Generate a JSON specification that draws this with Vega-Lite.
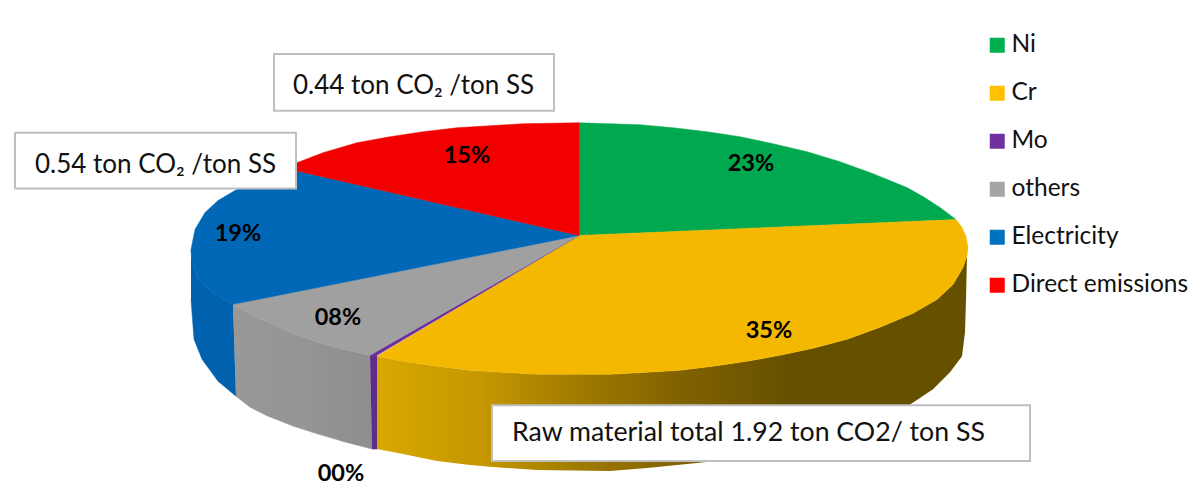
{"$schema":"https://vega.github.io/schema/vega-lite/v6.json","width":1198,"height":486,"autosize":{"type":"fit","contains":"padding"},"padding":0,"background":"white","config":{"view":{"stroke":null},"font":"Lato"},
"datasets":{
"outline":[
{"slice":"Ni","seq":0,"x":579,"y":236},{"slice":"Ni","seq":1,"x":579,"y":123},{"slice":"Ni","seq":2,"x":610,"y":124},{"slice":"Ni","seq":3,"x":640,"y":125},{"slice":"Ni","seq":4,"x":673,"y":128},{"slice":"Ni","seq":5,"x":707,"y":132},{"slice":"Ni","seq":6,"x":740,"y":137},{"slice":"Ni","seq":7,"x":773,"y":144},{"slice":"Ni","seq":8,"x":807,"y":152},{"slice":"Ni","seq":9,"x":840,"y":162},{"slice":"Ni","seq":10,"x":873,"y":174},{"slice":"Ni","seq":11,"x":907,"y":188},{"slice":"Ni","seq":12,"x":923,"y":197},{"slice":"Ni","seq":13,"x":940,"y":208},{"slice":"Ni","seq":14,"x":956,"y":220},{"slice":"Ni","seq":15,"x":579,"y":236},
{"slice":"Cr","seq":0,"x":579,"y":236},{"slice":"Cr","seq":1,"x":956,"y":220},{"slice":"Cr","seq":2,"x":962,"y":228},{"slice":"Cr","seq":3,"x":966,"y":237},{"slice":"Cr","seq":4,"x":968,"y":248},{"slice":"Cr","seq":5,"x":967,"y":256},{"slice":"Cr","seq":6,"x":963,"y":268},{"slice":"Cr","seq":7,"x":953,"y":285},{"slice":"Cr","seq":8,"x":937,"y":300},{"slice":"Cr","seq":9,"x":913,"y":314},{"slice":"Cr","seq":10,"x":880,"y":328},{"slice":"Cr","seq":11,"x":847,"y":340},{"slice":"Cr","seq":12,"x":813,"y":349},{"slice":"Cr","seq":13,"x":780,"y":356},{"slice":"Cr","seq":14,"x":747,"y":362},{"slice":"Cr","seq":15,"x":713,"y":367},{"slice":"Cr","seq":16,"x":680,"y":371},{"slice":"Cr","seq":17,"x":647,"y":373},{"slice":"Cr","seq":18,"x":610,"y":375},{"slice":"Cr","seq":19,"x":570,"y":375},{"slice":"Cr","seq":20,"x":537,"y":375},{"slice":"Cr","seq":21,"x":503,"y":373},{"slice":"Cr","seq":22,"x":470,"y":371},{"slice":"Cr","seq":23,"x":437,"y":367},{"slice":"Cr","seq":24,"x":403,"y":362},{"slice":"Cr","seq":25,"x":377,"y":357},{"slice":"Cr","seq":26,"x":579,"y":236},
{"slice":"Mo","seq":0,"x":579,"y":236},{"slice":"Mo","seq":1,"x":377,"y":356},{"slice":"Mo","seq":2,"x":370,"y":356},{"slice":"Mo","seq":3,"x":579,"y":236},
{"slice":"others","seq":0,"x":579,"y":236},{"slice":"others","seq":1,"x":370,"y":356},{"slice":"others","seq":2,"x":343,"y":350},{"slice":"others","seq":3,"x":318,"y":343},{"slice":"others","seq":4,"x":293,"y":334},{"slice":"others","seq":5,"x":268,"y":323},{"slice":"others","seq":6,"x":250,"y":315},{"slice":"others","seq":7,"x":233,"y":305},{"slice":"others","seq":8,"x":579,"y":236},
{"slice":"Electricity","seq":0,"x":579,"y":236},{"slice":"Electricity","seq":1,"x":233,"y":305},{"slice":"Electricity","seq":2,"x":215,"y":295},{"slice":"Electricity","seq":3,"x":198,"y":280},{"slice":"Electricity","seq":4,"x":192,"y":262},{"slice":"Electricity","seq":5,"x":191,"y":250},{"slice":"Electricity","seq":6,"x":195,"y":230},{"slice":"Electricity","seq":7,"x":205,"y":213},{"slice":"Electricity","seq":8,"x":218,"y":201},{"slice":"Electricity","seq":9,"x":240,"y":188},{"slice":"Electricity","seq":10,"x":262,"y":177},{"slice":"Electricity","seq":11,"x":283,"y":168},{"slice":"Electricity","seq":12,"x":579,"y":236},
{"slice":"Direct emissions","seq":0,"x":579,"y":236},{"slice":"Direct emissions","seq":1,"x":283,"y":168},{"slice":"Direct emissions","seq":2,"x":297,"y":163},{"slice":"Direct emissions","seq":3,"x":323,"y":153},{"slice":"Direct emissions","seq":4,"x":357,"y":143},{"slice":"Direct emissions","seq":5,"x":390,"y":137},{"slice":"Direct emissions","seq":6,"x":423,"y":132},{"slice":"Direct emissions","seq":7,"x":457,"y":128},{"slice":"Direct emissions","seq":8,"x":490,"y":126},{"slice":"Direct emissions","seq":9,"x":523,"y":124},{"slice":"Direct emissions","seq":10,"x":579,"y":123},{"slice":"Direct emissions","seq":11,"x":579,"y":236}
],
"wall":[
{"slice":"Electricity","seq":0,"x":191,"y":250},{"slice":"Electricity","seq":1,"x":192,"y":262},{"slice":"Electricity","seq":2,"x":198,"y":280},{"slice":"Electricity","seq":3,"x":215,"y":295},{"slice":"Electricity","seq":4,"x":233,"y":305},{"slice":"Electricity","seq":5,"x":236,"y":397},{"slice":"Electricity","seq":6,"x":218,"y":382},{"slice":"Electricity","seq":7,"x":202,"y":360},{"slice":"Electricity","seq":8,"x":194,"y":340},{"slice":"Electricity","seq":9,"x":191,"y":300},
{"slice":"others","seq":0,"x":233,"y":305},{"slice":"others","seq":1,"x":250,"y":315},{"slice":"others","seq":2,"x":268,"y":323},{"slice":"others","seq":3,"x":293,"y":334},{"slice":"others","seq":4,"x":318,"y":343},{"slice":"others","seq":5,"x":343,"y":350},{"slice":"others","seq":6,"x":370,"y":356},{"slice":"others","seq":7,"x":372,"y":450},{"slice":"others","seq":8,"x":345,"y":443},{"slice":"others","seq":9,"x":318,"y":435},{"slice":"others","seq":10,"x":293,"y":427},{"slice":"others","seq":11,"x":268,"y":417},{"slice":"others","seq":12,"x":250,"y":408},{"slice":"others","seq":13,"x":236,"y":397},
{"slice":"Mo","seq":0,"x":370,"y":356},{"slice":"Mo","seq":1,"x":377,"y":356},{"slice":"Mo","seq":2,"x":378,"y":450},{"slice":"Mo","seq":3,"x":372,"y":450},
{"slice":"Cr","seq":0,"x":377,"y":357},{"slice":"Cr","seq":1,"x":403,"y":362},{"slice":"Cr","seq":2,"x":437,"y":367},{"slice":"Cr","seq":3,"x":470,"y":371},{"slice":"Cr","seq":4,"x":503,"y":373},{"slice":"Cr","seq":5,"x":537,"y":375},{"slice":"Cr","seq":6,"x":570,"y":375},{"slice":"Cr","seq":7,"x":610,"y":375},{"slice":"Cr","seq":8,"x":647,"y":373},{"slice":"Cr","seq":9,"x":680,"y":371},{"slice":"Cr","seq":10,"x":713,"y":367},{"slice":"Cr","seq":11,"x":747,"y":362},{"slice":"Cr","seq":12,"x":780,"y":356},{"slice":"Cr","seq":13,"x":813,"y":349},{"slice":"Cr","seq":14,"x":847,"y":340},{"slice":"Cr","seq":15,"x":880,"y":328},{"slice":"Cr","seq":16,"x":913,"y":314},{"slice":"Cr","seq":17,"x":937,"y":300},{"slice":"Cr","seq":18,"x":953,"y":285},{"slice":"Cr","seq":19,"x":963,"y":268},{"slice":"Cr","seq":20,"x":967,"y":256},{"slice":"Cr","seq":21,"x":966,"y":300},{"slice":"Cr","seq":22,"x":965,"y":333},{"slice":"Cr","seq":23,"x":962,"y":357},{"slice":"Cr","seq":24,"x":950,"y":373},{"slice":"Cr","seq":25,"x":933,"y":390},{"slice":"Cr","seq":26,"x":912,"y":404},{"slice":"Cr","seq":27,"x":880,"y":424},{"slice":"Cr","seq":28,"x":840,"y":441},{"slice":"Cr","seq":29,"x":780,"y":455},{"slice":"Cr","seq":30,"x":697,"y":464},{"slice":"Cr","seq":31,"x":647,"y":469},{"slice":"Cr","seq":32,"x":610,"y":472},{"slice":"Cr","seq":33,"x":537,"y":471},{"slice":"Cr","seq":34,"x":493,"y":468},{"slice":"Cr","seq":35,"x":470,"y":466},{"slice":"Cr","seq":36,"x":437,"y":462},{"slice":"Cr","seq":37,"x":403,"y":455},{"slice":"Cr","seq":38,"x":377,"y":450}
],
"shares":[{"label":"23%","x":751,"y":164},{"label":"35%","x":769,"y":332},{"label":"00%","x":341,"y":475},{"label":"08%","x":338,"y":319},{"label":"19%","x":238,"y":234},{"label":"15%","x":467,"y":156}],
"boxes":[{"text":"0.44 ton CO₂ /ton SS","x":274,"x2":554,"y":54,"y2":111,"tx":293,"ty":86},{"text":"0.54 ton CO₂ /ton SS","x":15,"x2":296,"y":133,"y2":189,"tx":35,"ty":165},{"text":"Raw material total 1.92 ton CO2/ ton SS","x":492,"x2":1030,"y":406,"y2":462,"tx":512,"ty":434}],
"series":[{"slice":"Ni"},{"slice":"Cr"},{"slice":"Mo"},{"slice":"others"},{"slice":"Electricity"},{"slice":"Direct emissions"}]
},
"encoding":{},
"layer":[
{"data":{"name":"wall"},"transform":[{"filter":"datum.slice==='Electricity'"}],"mark":{"type":"line","fill":"#0062ae","stroke":"#0062ae","strokeWidth":0.5},"encoding":{"x":{"field":"x","type":"quantitative","scale":{"domain":[0,1198],"nice":false,"zero":false},"axis":null},"y":{"field":"y","type":"quantitative","scale":{"domain":[486,0],"nice":false,"zero":false},"axis":null},"order":{"field":"seq"}}},
{"data":{"name":"wall"},"transform":[{"filter":"datum.slice==='others'"}],"mark":{"type":"line","stroke":"#949494","strokeWidth":0.5,"fill":{"gradient":"linear","x1":0,"y1":0,"x2":1,"y2":0,"stops":[{"offset":0,"color":"#989898"},{"offset":0.5,"color":"#959595"},{"offset":1,"color":"#8e8e8e"}]}},"encoding":{"x":{"field":"x","type":"quantitative","axis":null},"y":{"field":"y","type":"quantitative","axis":null},"order":{"field":"seq"}}},
{"data":{"name":"wall"},"transform":[{"filter":"datum.slice==='Mo'"}],"mark":{"type":"line","fill":"#5f2c8c","stroke":"#5f2c8c","strokeWidth":0.5},"encoding":{"x":{"field":"x","type":"quantitative","axis":null},"y":{"field":"y","type":"quantitative","axis":null},"order":{"field":"seq"}}},
{"data":{"name":"wall"},"transform":[{"filter":"datum.slice==='Cr'"}],"mark":{"type":"line","strokeWidth":0,"fill":{"gradient":"linear","x1":0,"y1":0,"x2":1,"y2":0,"stops":[{"offset":0,"color":"#d8a700"},{"offset":0.17,"color":"#c69800"},{"offset":0.34,"color":"#a07b00"},{"offset":0.51,"color":"#816200"},{"offset":0.7,"color":"#665000"},{"offset":1,"color":"#655000"}]}},"encoding":{"x":{"field":"x","type":"quantitative","axis":null},"y":{"field":"y","type":"quantitative","axis":null},"order":{"field":"seq"}}},
{"data":{"name":"outline"},"mark":{"type":"line","strokeWidth":0.5},"encoding":{"x":{"field":"x","type":"quantitative","axis":null},"y":{"field":"y","type":"quantitative","axis":null},"order":{"field":"seq"},"fill":{"field":"slice","type":"nominal","legend":null,"scale":{"domain":["Ni","Cr","Mo","others","Electricity","Direct emissions"],"range":["#00a84f","#f4b800","#6a2f9a","#a0a0a0","#0068b7","#f20000"]}},"stroke":{"field":"slice","type":"nominal","legend":null,"scale":{"domain":["Ni","Cr","Mo","others","Electricity","Direct emissions"],"range":["#00a84f","#f4b800","#6a2f9a","#a0a0a0","#0068b7","#f20000"]}}}},
{"data":{"name":"series"},"mark":{"type":"square","size":0,"filled":true},"encoding":{"fill":{"field":"slice","type":"nominal","scale":{"domain":["Ni","Cr","Mo","others","Electricity","Direct emissions"],"range":["#00b050","#ffc000","#7030a0","#a5a5a5","#0070c0","#ff0000"]},"legend":{"title":null,"orient":"none","legendX":985,"legendY":33,"symbolType":"square","symbolSize":225,"symbolOpacity":1,"labelFontSize":24.5,"labelFont":"Lato","labelColor":"#111111","rowPadding":23,"labelOffset":2,"labelLimit":240,"symbolStrokeWidth":0}}}},
{"data":{"name":"boxes"},"mark":{"type":"rect","fill":"white","stroke":"#bfbfbf","strokeWidth":2},"encoding":{"x":{"field":"x","type":"quantitative","axis":null},"x2":{"field":"x2"},"y":{"field":"y","type":"quantitative","axis":null},"y2":{"field":"y2"}}},
{"data":{"name":"boxes"},"transform":[{"filter":"datum.tx !== 512"}],"mark":{"type":"text","align":"left","baseline":"middle","fontSize":26,"font":"Lato","color":"#111111"},"encoding":{"x":{"field":"tx","type":"quantitative","axis":null},"y":{"field":"ty","type":"quantitative","axis":null},"text":{"field":"text"}}},
{"data":{"name":"boxes"},"transform":[{"filter":"datum.tx === 512"}],"mark":{"type":"text","align":"left","baseline":"middle","fontSize":26.7,"font":"Lato","color":"#111111"},"encoding":{"x":{"field":"tx","type":"quantitative","axis":null},"y":{"field":"ty","type":"quantitative","axis":null},"text":{"field":"text"}}},
{"data":{"name":"shares"},"mark":{"type":"text","align":"center","baseline":"middle","fontSize":23.5,"fontWeight":"bold","font":"Lato","color":"black"},"encoding":{"x":{"field":"x","type":"quantitative","axis":null},"y":{"field":"y","type":"quantitative","axis":null},"text":{"field":"label"}}}
],
"resolve":{"scale":{"fill":"independent"}}}
